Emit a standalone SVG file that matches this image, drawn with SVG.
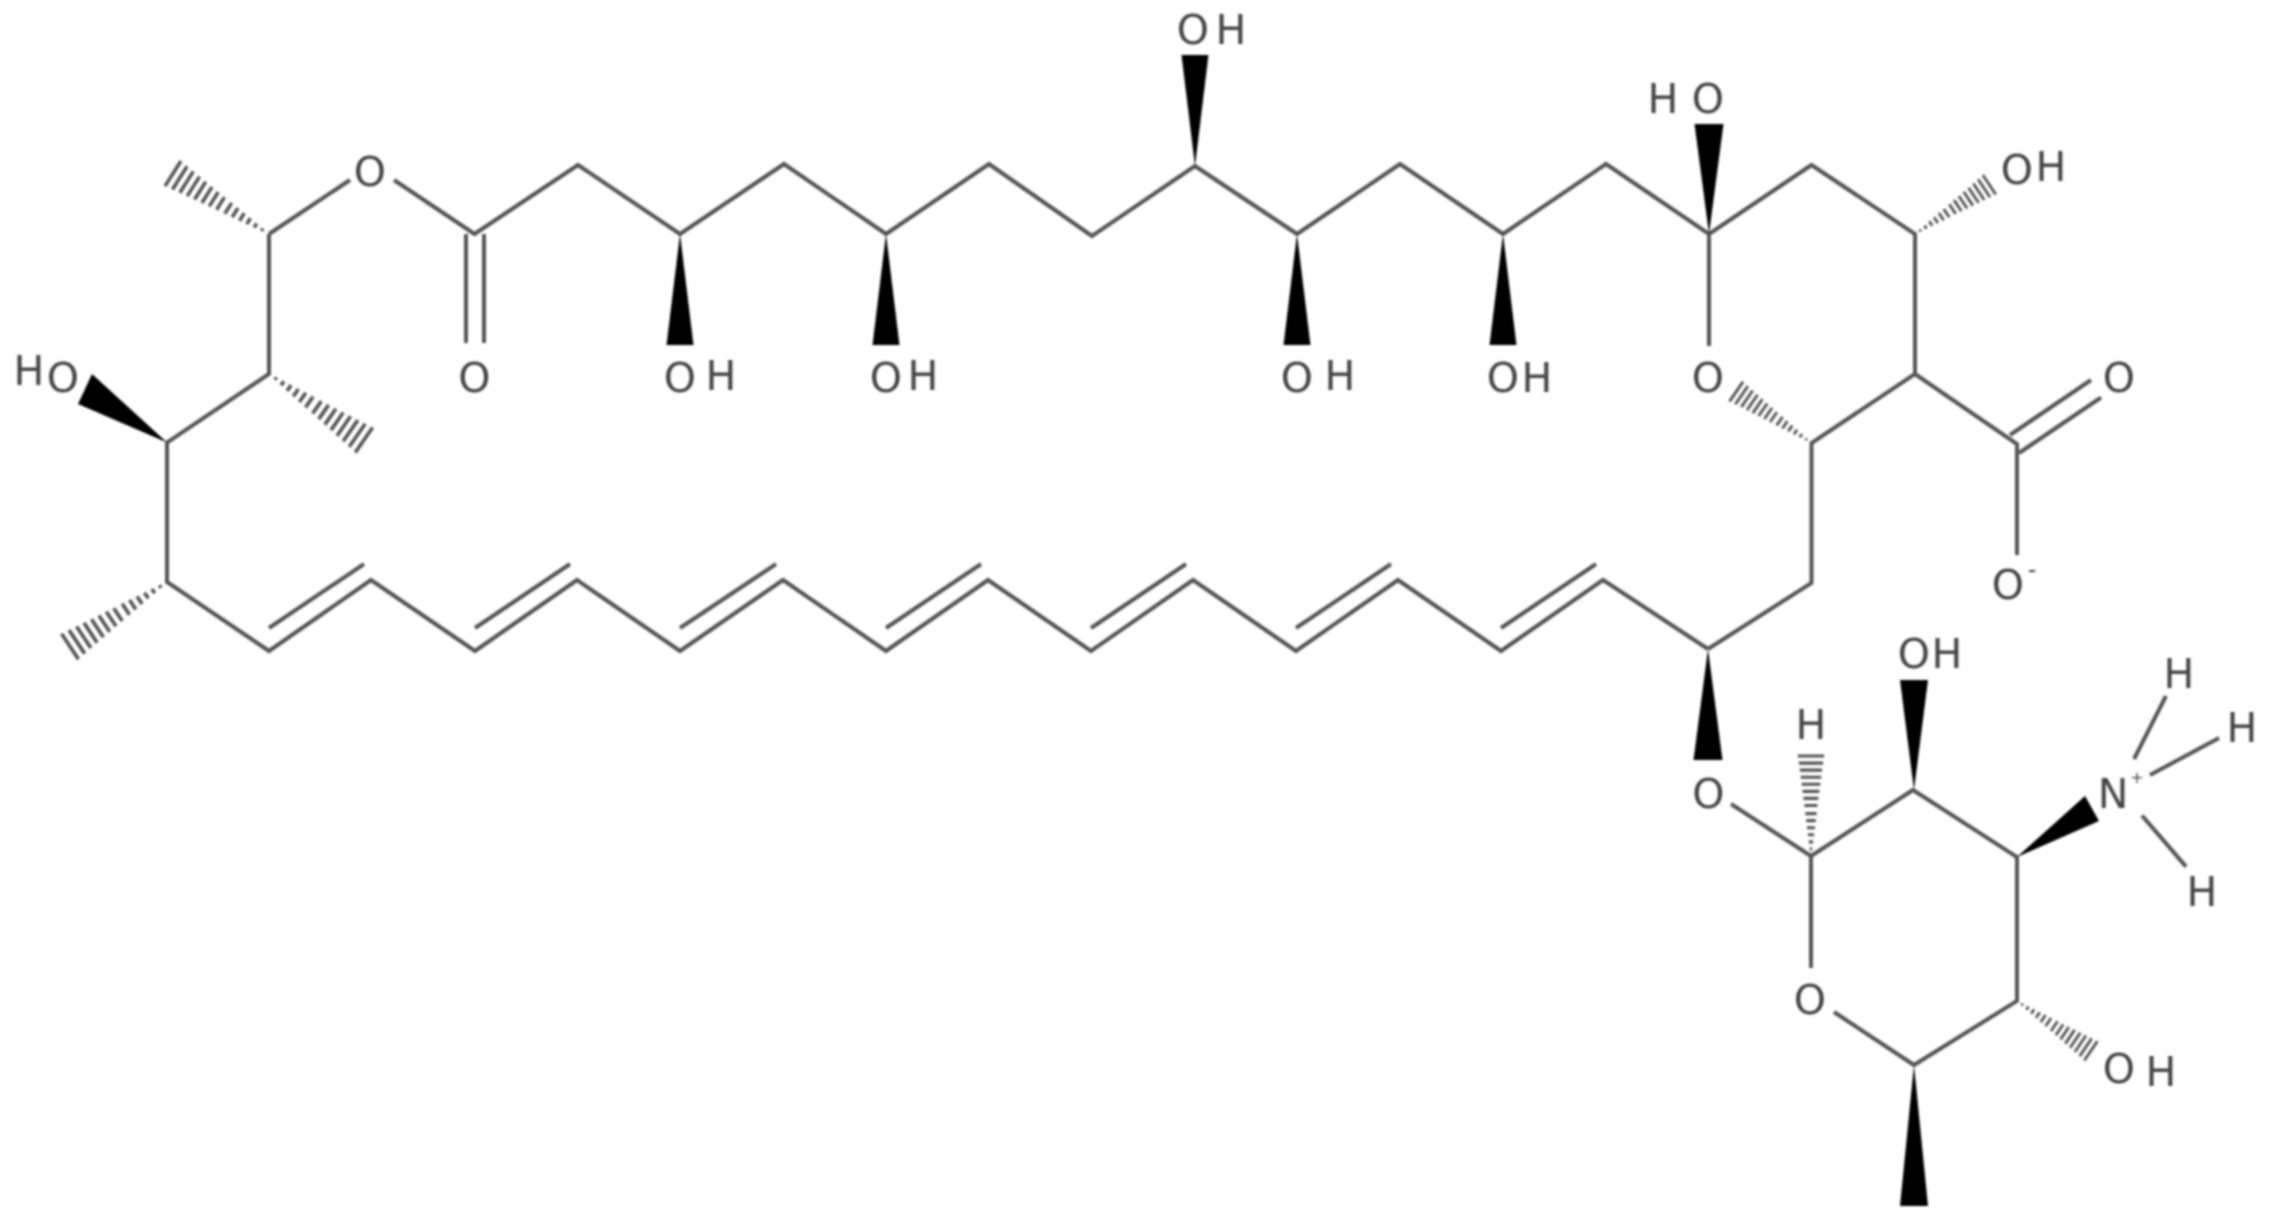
<svg xmlns="http://www.w3.org/2000/svg" width="2270" height="1227" viewBox="0 0 2270 1227">
<style>
.b{fill:none;stroke:#555;stroke-width:4;stroke-linejoin:miter;stroke-linecap:butt}
.w{fill:#000;stroke:none}
.h{fill:none;stroke:#555;stroke-width:3.1}
text{font-family:"DejaVu Sans","Liberation Sans",sans-serif;font-size:41px;fill:#444;text-anchor:middle}
.s{font-size:24px}
.p{font-size:16px}
</style>
<defs>
<filter id="soft" x="0" y="0" width="100%" height="100%" filterUnits="userSpaceOnUse" primitiveUnits="userSpaceOnUse"><feGaussianBlur stdDeviation="1.1"/></filter>
<path id="hash" class="h" d="M7-1.2V1.2M14-2.1V2.1M21-3V3M28-3.9V3.9M35-4.8V4.8M42-5.6V5.6M50-6.5V6.5M57-7.4V7.4M64-8.3V8.3M71-9.2V9.2M78-10.1V10.1M85-11V11M92-12V12M99-13V13"/>
</defs>
<rect width="2270" height="1227" fill="#fff"/>
<g filter="url(#soft)">
<g id="connectors">
<path class="b" d="M269 234L350 180M394 180L474.5 234L578 165L680 234L784 164L886 234L989 164L1092 236L1195 166L1297 234L1400 164L1503 234L1606 164L1709 234L1811.500 165L1915 234V374L1811.500 443V583L1708 649M1915 374L2017 444V555M1709 234V346"/>
<path class="b" d="M269 234V374L167 442.500V582L269 651L371 580L475 651L577 580L680 651L783 580L886 651L988 580L1091 651L1193 580L1296 651L1398 580L1501 651L1603 580L1708 649"/>
<path class="b" d="M269 628L364 564M475 628L570 564M680 628L776 564M886 628L981 564M1091 628L1186 564M1296 628L1391 564M1501 628L1596 564"/>
<path class="b" d="M466 234V343M484 234V343M2010 435L2091 380M2019 453L2101 397.500"/>
<path class="b" d="M1731 804L1811 856L1913 790L2017 857V1001L1914 1065L1834 1012M1811 856V968M2134 759L2166 696M2150 775L2219 738M2142 815.500L2186 866.600"/>
<polygon class="w" points="167,442.500 92,374 78,404"/>
<polygon class="w" points="680,234 666.500,345 693.500,345"/>
<polygon class="w" points="886,234 872.500,345 899.500,345"/>
<polygon class="w" points="1297,234 1283.500,345 1310.500,345"/>
<polygon class="w" points="1503,234 1489.500,345 1516.500,345"/>
<polygon class="w" points="1195,166 1181.500,55 1208.500,55"/>
<polygon class="w" points="1709,234 1694.500,124 1723.500,124"/>
<polygon class="w" points="1708,649 1693.500,760 1722.500,760"/>
<polygon class="w" points="1914,790 1900,680 1928,680"/>
<polygon class="w" points="2017,857 2085,796 2099,821"/>
<polygon class="w" points="1914,1065 1900,1206 1928,1206"/>
<use href="#hash" transform="translate(269 234) rotate(212.200) scale(1.146)"/>
<use href="#hash" transform="translate(269 374) rotate(34.800) scale(1.168)"/>
<use href="#hash" transform="translate(167 582) rotate(146.400) scale(1.176)"/>
<use href="#hash" transform="translate(1915 234) rotate(-33.500) scale(0.9)"/>
<use href="#hash" transform="translate(1811.500 443) rotate(214.400) scale(0.92)"/>
<use href="#hash" transform="translate(1811 856) rotate(-90) scale(1.01)"/>
<use href="#hash" transform="translate(2017 1001) rotate(34) scale(0.9)"/>
</g>
<g id="atom-O-ester"><text x="370" y="186">O</text></g>
<g id="atom-O-carbonyl"><text x="474.500" y="392">O</text></g>
<g id="atom-HO-left"><text x="29 63" y="385 392">HO</text></g>
<g id="atom-OH-1"><text x="680 721" y="392 390">OH</text></g>
<g id="atom-OH-2"><text x="886 923" y="392 390">OH</text></g>
<g id="atom-OH-top"><text x="1193 1231" y="44">OH</text></g>
<g id="atom-OH-3"><text x="1297 1340" y="392 390">OH</text></g>
<g id="atom-OH-4"><text x="1503 1537" y="392 392">OH</text></g>
<g id="atom-HO-ring"><text x="1663 1708" y="113">HO</text></g>
<g id="atom-OH-ring"><text x="2017 2051" y="184 181">OH</text></g>
<g id="atom-O-ring"><text x="1708" y="392">O</text></g>
<g id="atom-O-acid"><text x="2119" y="392">O</text></g>
<g id="atom-O-minus"><text x="2008" y="599">O</text><text class="s" x="2032" y="578">-</text></g>
<g id="atom-OH-sugar-top"><text x="1914 1947" y="668">OH</text></g>
<g id="atom-H-anomeric"><text x="1811" y="739">H</text></g>
<g id="atom-O-glycosidic"><text x="1708.500" y="808">O</text></g>
<g id="atom-N"><text x="2113" y="808">N</text><text class="p" x="2137" y="783">+</text></g>
<g id="atom-H-n1"><text x="2179" y="688">H</text></g>
<g id="atom-H-n2"><text x="2242" y="742">H</text></g>
<g id="atom-H-n3"><text x="2202" y="906">H</text></g>
<g id="atom-O-sugar"><text x="1810" y="1014">O</text></g>
<g id="atom-OH-sugar-bottom"><text x="2119 2161" y="1083 1086">OH</text></g>
</g>
</svg>
